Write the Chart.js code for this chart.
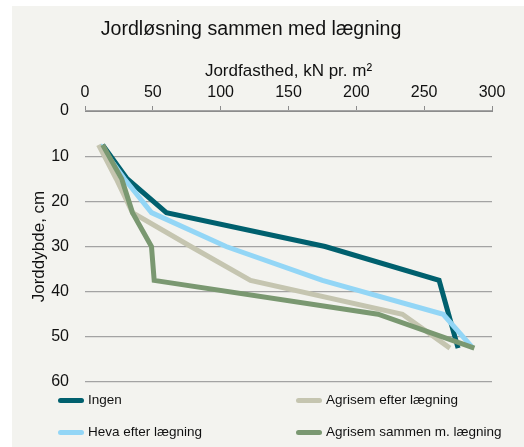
<!DOCTYPE html>
<html>
<head>
<meta charset="utf-8">
<script src="https://cdn.jsdelivr.net/npm/chart.js@4/dist/chart.umd.min.js"></script>
<style>
  body { margin: 0; background: #fff; font-family: "Liberation Sans", Arial, sans-serif; }
  #wrap { position: absolute; left: 12px; top: 6px; width: 512px; height: 441px; background: #f3f3ef; }
  .leg { position: absolute; font-size: 13.5px; color: #111; line-height: 16px; white-space: nowrap; }
  .leg i { position: absolute; left: -30px; top: 6px; width: 26px; height: 5px; border-radius: 3px; }
</style>
</head>
<body>
<div id="wrap">
  <canvas id="chart" width="512" height="441"></canvas>
</div>
<div id="legend"></div>
<script>
// depth of each measurement (cm)
const depths = [7.5, 15, 22.5, 30, 37.5, 45, 52.5];

// soil strength, kN pr. m2, per series
const ingen = [13, 31, 60, 177, 261, 268, 275];
const heva = [11, 29, 49, 104, 175, 264, 286];
const agrisemEfter = [10, 23, 35, 78, 122, 234, 269];
const agrisemSammen = [13, 27, 35, 49, 51, 216, 287];

const seriesNames = ['Ingen', 'Heva efter lægning', 'Agrisem efter lægning', 'Agrisem sammen m. lægning'];
const seriesValues = [ingen, heva, agrisemEfter, agrisemSammen];
const colors = ['#00606e', '#93d6f6', '#c5c5b0', '#7a9871'];

const xTicks = [0, 50, 100, 150, 200, 250, 300];
const yTicks = [0, 10, 20, 30, 40, 50, 60];

const font = "'Liberation Sans', Arial, sans-serif";

const datasets = seriesValues.map((vals, i) => ({
    label: seriesNames[i],
    data: vals.map((v, j) => ({ x: v, y: depths[j] })),
    borderColor: colors[i],
    backgroundColor: colors[i],
    borderWidth: 5,
    pointRadius: 0,
    tension: 0,
    order: seriesValues.length - i
}));

// main title drawn on the canvas
const titlePlugin = {
    id: 'mainTitle',
    afterDraw(chart) {
        const ctx = chart.ctx;
        ctx.save();
        ctx.font = `19.6px ${font}`;
        ctx.fillStyle = '#111';
        ctx.textAlign = 'center';
        ctx.textBaseline = 'middle';
        ctx.fillText('Jordløsning sammen med lægning', 239, 24);
        ctx.restore();
    }
};

new Chart(document.getElementById('chart'), {
    type: 'line',
    data: { datasets },
    plugins: [titlePlugin],
    options: {
        responsive: false,
        animation: false,
        layout: { padding: { top: 50, left: 0, right: 32, bottom: 65 } },
        plugins: { legend: { display: false }, tooltip: { enabled: false } },
        scales: {
            x: {
                type: 'linear',
                position: 'top',
                min: 0, max: 300,
                afterBuildTicks: s => { s.ticks = xTicks.map(v => ({ value: v })); },
                afterFit: s => { s.height = 55; },
                ticks: { font: { family: font, size: 16 }, color: '#111', padding: 4, maxRotation: 0 },
                grid: { drawOnChartArea: false, drawTicks: true, tickLength: 5, color: '#8c8c8c', lineWidth: 1 },
                border: { display: true, color: '#8c8c8c', width: 1 },
                title: { display: true, text: 'Jordfasthed, kN pr. m²', font: { family: font, size: 17 }, color: '#111', padding: { top: 5, bottom: 0 } }
            },
            y: {
                type: 'linear',
                reverse: true,
                min: 0, max: 60,
                afterBuildTicks: s => { s.ticks = yTicks.map(v => ({ value: v })); },
                afterFit: s => { s.width = 73; },
                ticks: { font: { family: font, size: 16 }, color: '#111', padding: 16 },
                grid: { drawTicks: false, color: '#a3a3a3', lineWidth: 1.3 },
                border: { display: false },
                title: { display: true, text: 'Jorddybde, cm', font: { family: font, size: 17 }, color: '#111', padding: { top: 17, bottom: 0 } }
            }
        }
    }
});

// legend in two columns, as in the original
const legendPos = [[88, 392], [88, 424], [326, 392], [326, 424]];
const legend = document.getElementById('legend');
seriesNames.forEach((name, i) => {
    const d = document.createElement('div');
    d.className = 'leg';
    d.style.left = legendPos[i][0] + 'px';
    d.style.top = legendPos[i][1] + 'px';
    d.innerHTML = `<i style="background:${colors[i]}"></i>${name}`;
    legend.appendChild(d);
});
</script>
</body>
</html>
